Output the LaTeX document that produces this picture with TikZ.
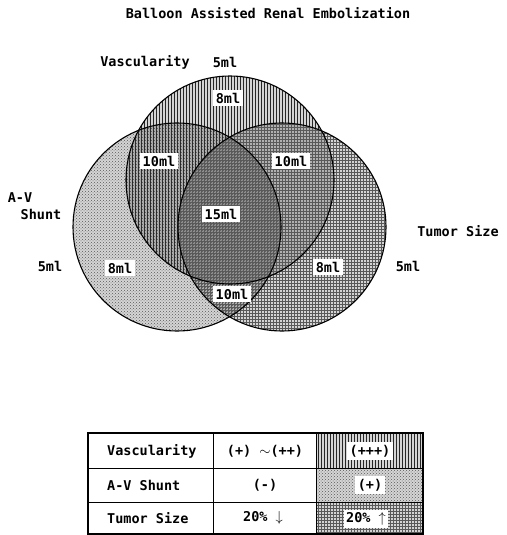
\documentclass[tikz,border=0pt]{standalone}
\usepackage{fontspec}
\setmonofont{DejaVu Sans Mono}
\usetikzlibrary{patterns}

\begin{document}
\begin{tikzpicture}[
  x=1pt, y=-1pt,
  txt/.style={font=\ttfamily\bfseries\fontsize{13.5}{15}\selectfont, inner sep=0pt},
  vol/.style={txt, fill=white, inner xsep=2.5pt, inner ysep=3pt},
  ring/.style={draw, line width=1.1pt},
  shade/.style={fill=black, fill opacity=0.17},
  vasc/.style={pattern=vertical lines, pattern color=black!85},
  shunt/.style={pattern=crosshatch dots, pattern color=black!65},
  tumor/.style={pattern=grid, pattern color=black!65}
]
\useasboundingbox (0,0) rectangle (506,535);
\node[txt] (title) at (268,13) {Balloon Assisted Renal Embolization};

% the three circles
\coordinate (cv) at (230,180);
\coordinate (ca) at (177,227);
\coordinate (ct) at (282,227);
\foreach \c in {cv,ca,ct} \fill[shade] (\c) circle (104pt);
\fill[vasc] (cv) circle (104pt);
\fill[shunt] (ca) circle (104pt);
\fill[tumor] (ct) circle (104pt);
\foreach \c in {cv,ca,ct} \draw[ring] (\c) circle (104pt);

% outer labels
\node[txt] (vascname) at (145,62) {Vascularity};
\node[txt] (vascvol) at (225,62) {5ml};
\node[txt] (avname) at (20,198) {A-V};
\node[txt] (avname2) at (41,214) {Shunt};
\node[txt] (avvol) at (50,266) {5ml};
\node[txt] (tumname) at (458,231) {Tumor Size};
\node[txt] (tumvol) at (408,266) {5ml};

% region volumes
\node[vol] (v) at (228,98) {8ml};
\node[vol] (va) at (159,161) {10ml};
\node[vol] (vt) at (291,161) {10ml};
\node[vol] (vat) at (221,214) {15ml};
\node[vol] (a) at (120,268) {8ml};
\node[vol] (t) at (328,267) {8ml};
\node[vol] (at) at (232,294) {10ml};

% legend table
\fill[shade] (316,433) rectangle (423,534);
\fill[vasc] (316,433) rectangle (423,468);
\fill[shunt] (316,468) rectangle (423,502);
\fill[tumor] (316,502) rectangle (423,534);
\draw[line width=1.1pt] (88,433) rectangle (423,534);
\draw[line width=0.9pt] (88,468) -- (423,468) (88,502) -- (423,502)
  (213,433) -- (213,534) (316,433) -- (316,534);
\node[txt, anchor=west] (row1) at (107,451) {Vascularity};
\node[txt, anchor=west] (row2) at (107,485) {A-V Shunt};
\node[txt, anchor=west] (row3) at (107,518) {Tumor Size};
\node[txt] (low1) at (265,451) {(+) $\sim$(++)};
\node[txt] (low2) at (265,485) {(-)};
\node[txt] (low3) at (263,518) {20\% $\downarrow$};
\node[vol] (high1) at (370,451) {(+++)};
\node[vol] (high2) at (370,485) {(+)};
\node[vol] (high3) at (366,519) {20\% $\uparrow$};
\end{tikzpicture}
\end{document}
